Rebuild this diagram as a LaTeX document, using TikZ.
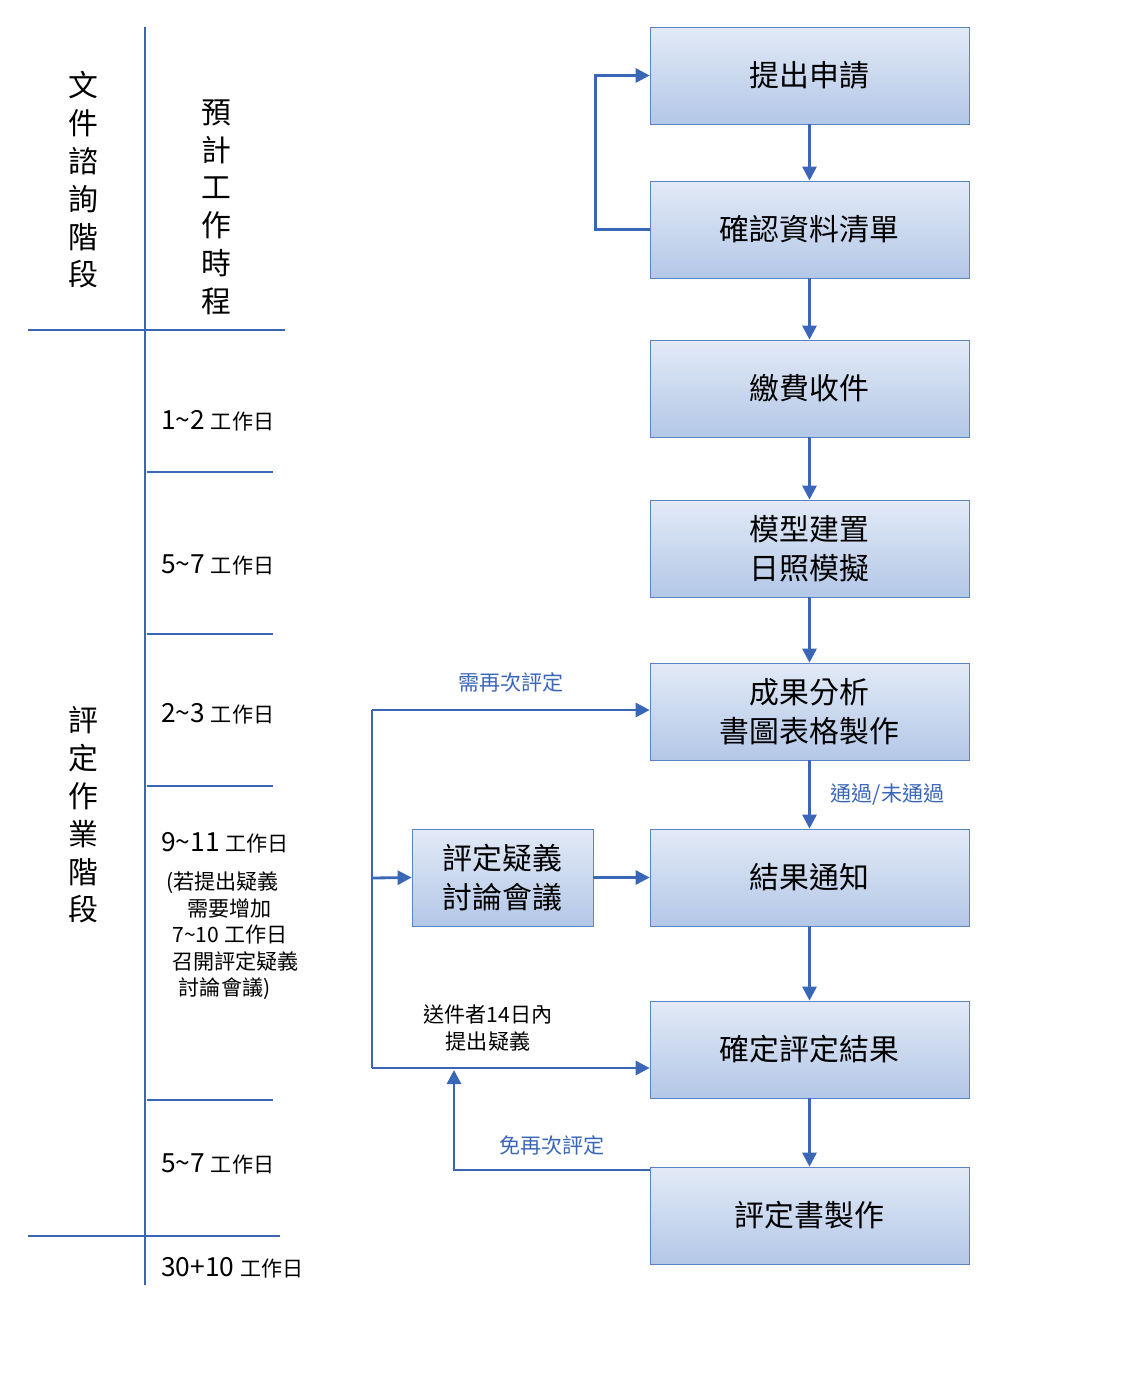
\documentclass[tikz,border=0pt]{standalone}
\usepackage{fontspec}
\setmainfont{Noto Sans CJK TC}
\usetikzlibrary{arrows.meta,positioning,calc}
\definecolor{lineblue}{HTML}{3A66B8}
\definecolor{boxtop}{HTML}{E2EAF6}
\definecolor{boxbot}{HTML}{B3C7E7}
\definecolor{boxline}{HTML}{5B84C8}
\tikzset{
  stage/.style={draw=boxline, top color=boxtop, bottom color=boxbot, minimum width=6.38cm,
    minimum height=1.94cm, align=center, font=\fontsize{17}{22}\selectfont},
  flow/.style={lineblue, line width=1.6pt, -{Triangle[length=8pt,width=8pt]}},
  rule/.style={lineblue, line width=1.6pt},
  lbl/.style={font=\fontsize{12}{15}\selectfont, align=center},
  days/.style={font=\fontsize{15}{18}\selectfont, anchor=west, align=left},
}
\newcommand{\workdays}[1]{#1 {\fontsize{12}{14}\selectfont 工作日}}
\begin{document}
\begin{tikzpicture}[x=0.02cm,y=-0.02cm]
  \useasboundingbox (0,0) rectangle (1141,1378);
  % timeline
  \draw[rule] (145,27) -- (145,1285);
  \draw[rule] (28,330) -- (285,330);
  \draw[rule] (28,1236) -- (280,1236);
  \foreach \y in {472,634,786,1100}
    \draw[rule] (147,\y) -- (273,\y);
  \node[font=\fontsize{17}{21.5}\selectfont, align=center] (phaseA) at (83,180) {文\\件\\諮\\詢\\階\\段};
  \node[font=\fontsize{17}{21.5}\selectfont, align=center] (sched) at (216,207) {預\\計\\工\\作\\時\\程};
  \node[font=\fontsize{17}{21.5}\selectfont, align=center] (phaseB) at (83,815) {評\\定\\作\\業\\階\\段};
  \node[days] (d1) at (155,421) {\workdays{1\textasciitilde 2}};
  \node[days] (d2) at (155,565) {\workdays{5\textasciitilde 7}};
  \node[days] (d3) at (155,714) {\workdays{2\textasciitilde 3}};
  \node[days] (d4) at (155,843) {\workdays{9\textasciitilde 11}};
  \node[lbl, anchor=north west, align=left] (d4note) at (160,866)
    {(若提出疑義\\\hspace{1em}需要增加\\\hspace{0.3em}7\textasciitilde 10 工作日\\\hspace{0.3em}召開評定疑義\\\hspace{0.6em}討論會議)};
  \node[days] (d5) at (155,1164) {\workdays{5\textasciitilde 7}};
  \node[days] (dall) at (155,1268) {\workdays{30+10}};
  % flow
  \node[stage] (apply) at (809.5,75.5) {提出申請};
  \node[stage] (check) at (809.5,229.5) {確認資料清單};
  \node[stage] (pay) at (809.5,388.5) {繳費收件};
  \node[stage] (model) at (809.5,548.5) {模型建置\\日照模擬};
  \node[stage] (result) at (809.5,711.5) {成果分析\\書圖表格製作};
  \node[stage] (notify) at (809.5,877.5) {結果通知};
  \node[stage] (final) at (809.5,1049.5) {確定評定結果};
  \node[stage] (report) at (809.5,1215.5) {評定書製作};
  \node[stage, minimum width=3.62cm] (meet) at (502.5,877.5) {評定疑義\\討論會議};
  \draw[flow] (apply) -- (check);
  \draw[flow] (check) -- (pay);
  \draw[flow] (pay) -- (model);
  \draw[flow] (model) -- (result);
  \draw[flow] (result) -- node[lbl, right=8pt] {通過/未通過} (notify);
  \draw[flow] (notify) -- (final);
  \draw[flow] (final) -- (report);
  \draw[flow] (check.west) -- ++(-54,0) |- (apply.west);
  \coordinate (busTop) at (372,710);
  \coordinate (busMid) at (372,878);
  \coordinate (busBot) at (372,1068);
  \coordinate (skipY) at (0,1170);
  \coordinate (skipX) at (454,1170);
  \coordinate (skipEnd) at (454,1070);
  \draw[rule] (busTop) -- (busBot);
  \draw[flow] (busTop) -- node[lbl, above=6pt] {需再次評定} (result.west |- busTop);
  \draw[flow] (busMid) -- (meet.west);
  \draw[flow] (meet.east) -- (notify.west);
  \draw[flow] (busBot) -- (final.west |- busBot);
  \node[lbl] (objLbl) at (488,1028) {送件者14日內\\提出疑義};
  \draw[flow] (report.west |- skipY) -- node[lbl, above=4pt] {免再次評定} (skipX) -- (skipEnd);
\end{tikzpicture}
\end{document}
